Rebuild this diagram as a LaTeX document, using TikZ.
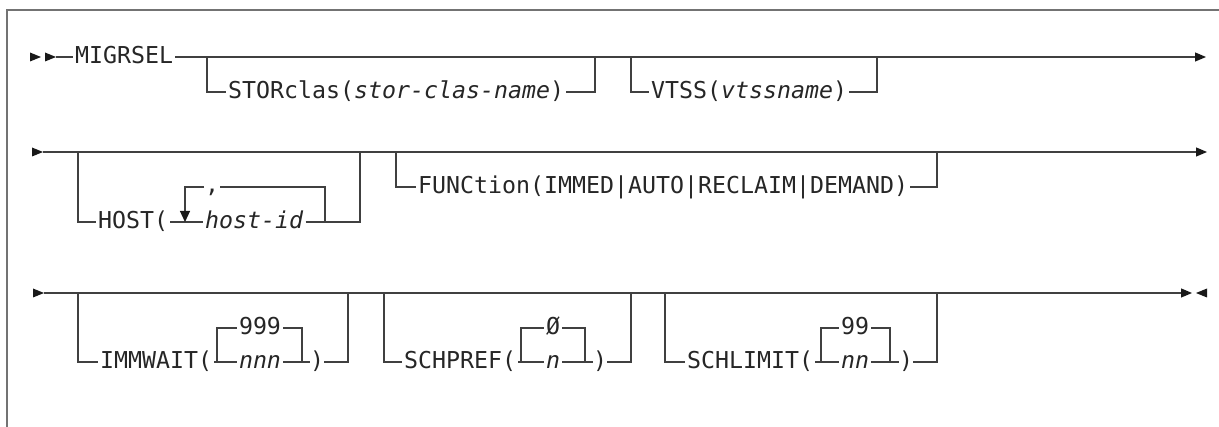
\documentclass[tikz,border=0pt]{standalone}
\usepackage{fontspec}
\usetikzlibrary{arrows.meta}
\newfontfamily\dmono{DejaVu Sans Mono}[ItalicFont={DejaVu Sans Mono Oblique}]
\begin{document}
\begin{tikzpicture}[x=1pt,y=-1pt,
  ln/.style={line width=1.2pt, draw=black!75},
  lbl/.style={font=\dmono\fontsize{23.25}{28}\selectfont, inner xsep=2pt, inner ysep=0pt,
              text height=14pt, text depth=0pt, anchor=west, text=black!85},
  ctr/.style={lbl, anchor=center},
  paren/.style={lbl, anchor=center, inner xsep=0pt},
  tri/.style={fill=black!90, draw=none},
  tipr/.style={-{Triangle[length=11pt,width=9pt,color=black!90]}},
  tipd/.style={-{Triangle[length=11pt,width=10pt,color=black!90]}},
  frameline/.style={line width=1.8pt, draw=black!55}]
\useasboundingbox (0,0) rectangle (1219,427);
% frame
\draw[frameline] (7,427) -- (7,10) -- (1219,10);

% ---------------- row 1 ----------------
\fill[tri] (30,52.5) -- (41,57) -- (30,61.5) -- cycle;
\fill[tri] (45,52.5) -- (56,57) -- (45,61.5) -- cycle;
\coordinate (s1) at (56,57);
\node[lbl] (mig) at (73,57) {MIGRSEL};
\coordinate (e1) at (1206,57);
\draw[ln] (s1) -- (mig.west);
\draw[ln, tipr] (mig.east) -- (e1);

\node[lbl] (stor) at (226,92) {STORclas(\textit{stor-clas-name})};
\coordinate (b1l) at (207,57);
\coordinate (b1r) at (595,57);
\draw[ln] (b1l) |- (stor.west);
\draw[ln] (stor.east) -| (b1r);

\node[lbl] (vtss) at (649,92) {VTSS(\textit{vtssname})};
\coordinate (b2l) at (631,57);
\coordinate (b2r) at (877,57);
\draw[ln] (b2l) |- (vtss.west);
\draw[ln] (vtss.east) -| (b2r);

% ---------------- row 2 ----------------
\fill[tri] (32,147.5) -- (43,152) -- (32,156.5) -- cycle;
\coordinate (s2) at (43,152);
\coordinate (e2) at (1207,152);
\draw[ln, tipr] (s2) -- (e2);

\node[lbl] (host) at (96,222) {HOST(};
\node[lbl] (hid) at (203,222) {\textit{host-id}};
\coordinate (b3l) at (78,152);
\coordinate (b3r) at (360,152);
\draw[ln] (b3l) |- (host.west);
\draw[ln] (host.east) -- (hid.west);
\draw[ln] (hid.east) -| (b3r);

\node[lbl, anchor=base] (comma) at (212,193) {,};
\coordinate (lpa) at (204,187);
\coordinate (lpb) at (220,187);
\coordinate (lpl) at (185,222);
\coordinate (lpr) at (325,222);
\draw[ln, tipd] (lpa) -| (lpl);
\draw[ln] (lpb) -| (lpr);

\node[lbl] (func) at (416,187) {FUNCtion(IMMED|AUTO|RECLAIM|DEMAND)};
\coordinate (b4l) at (396,152);
\coordinate (b4r) at (937,152);
\draw[ln] (b4l) |- (func.west);
\draw[ln] (func.east) -| (b4r);

% ---------------- row 3 ----------------
\fill[tri] (33,288.5) -- (44,293) -- (33,297.5) -- cycle;
\coordinate (s3) at (44,293);
\coordinate (e3) at (1192,293);
\draw[ln, tipr] (s3) -- (e3);
\fill[tri] (1207,288.5) -- (1196,293) -- (1207,297.5) -- cycle;

% IMMWAIT
\node[lbl] (imm) at (98,362) {IMMWAIT(};
\node[ctr] (nnn) at (260,362) {\textit{nnn}};
\node[ctr] (d999) at (260,328) {999};
\node[paren] (rp1) at (317,362) {)};
\coordinate (b5l) at (78,293);
\coordinate (b5r) at (348,293);
\coordinate (j1l) at (217,362);
\coordinate (j1r) at (302,362);
\draw[ln] (b5l) |- (imm.west);
\draw[ln] (imm.east) -- (nnn.west);
\draw[ln] (j1l) |- (d999.west);
\draw[ln] (d999.east) -| (j1r);
\draw[ln] (nnn.east) -- (rp1.west);
\draw[ln] (rp1.east) -| (b5r);

% SCHPREF
\node[lbl] (schp) at (402,362) {SCHPREF(};
\node[ctr] (pn) at (553,362) {\textit{n}};
\node[ctr] (p0) at (553,328) {Ø};
\node[paren] (rp2) at (600,362) {)};
\coordinate (b6l) at (384,293);
\coordinate (b6r) at (631,293);
\coordinate (j2l) at (521,362);
\coordinate (j2r) at (585,362);
\draw[ln] (b6l) |- (schp.west);
\draw[ln] (schp.east) -- (pn.west);
\draw[ln] (j2l) |- (p0.west);
\draw[ln] (p0.east) -| (j2r);
\draw[ln] (pn.east) -- (rp2.west);
\draw[ln] (rp2.east) -| (b6r);

% SCHLIMIT
\node[lbl] (schl) at (685,362) {SCHLIMIT(};
\node[ctr] (lnn) at (855,362) {\textit{nn}};
\node[ctr] (l99) at (855,328) {99};
\node[paren] (rp3) at (906,362) {)};
\coordinate (b7l) at (665,293);
\coordinate (b7r) at (937,293);
\coordinate (j3l) at (821,362);
\coordinate (j3r) at (890,362);
\draw[ln] (b7l) |- (schl.west);
\draw[ln] (schl.east) -- (lnn.west);
\draw[ln] (j3l) |- (l99.west);
\draw[ln] (l99.east) -| (j3r);
\draw[ln] (lnn.east) -- (rp3.west);
\draw[ln] (rp3.east) -| (b7r);
\end{tikzpicture}
\end{document}
